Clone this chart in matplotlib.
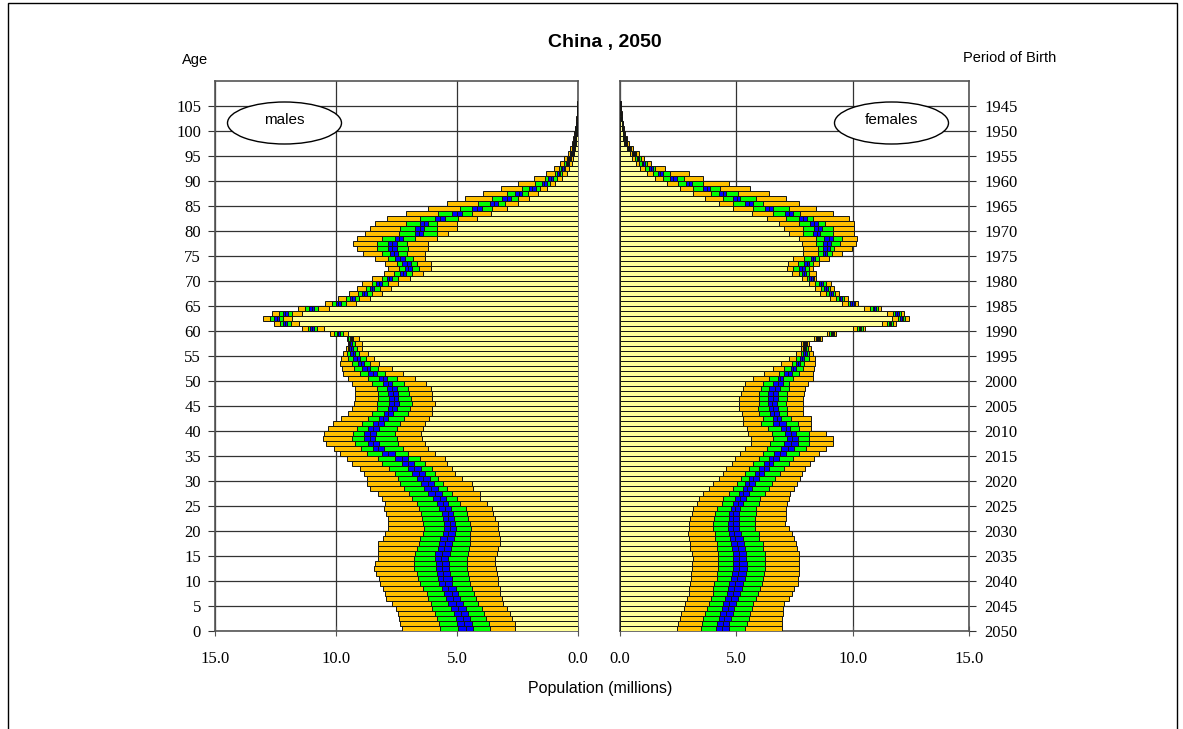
import numpy as np
import matplotlib
matplotlib.use('Agg')
import matplotlib.pyplot as plt
from matplotlib.patches import Ellipse, Rectangle

ages = np.arange(106)
age_ticks = list(range(0, 110, 5))
birth_labels = [str(2050 - a) for a in age_ticks]
x_ticks = [0, 5, 10, 15]
x_labels = ['0.0', '5.0', '10.0', '15.0']

# ---- males (millions), outer-most to inner boundaries ----
m_hi = [7.29, 7.36, 7.40, 7.45, 7.52, 7.70, 7.95, 7.98, 8.04, 8.18,
        8.21, 8.36, 8.42, 8.39, 8.28, 8.25, 8.28, 8.25, 8.04, 7.98,
        7.84, 7.84, 7.87, 7.95, 8.00, 7.98, 8.11, 8.25, 8.60, 8.73,
        8.73, 8.83, 9.01, 9.35, 9.56, 9.83, 10.07, 10.43, 10.52, 10.48,
        10.32, 10.11, 9.79, 9.52, 9.33, 9.24, 9.21, 9.21, 9.21, 9.35,
        9.49, 9.70, 9.77, 9.83, 9.79, 9.70, 9.60, 9.52, 9.56, 10.25,
        11.39, 12.56, 13.00, 12.66, 11.58, 10.45, 9.90, 9.45, 9.15, 8.94,
        8.50, 8.00, 7.84, 7.98, 8.39, 8.87, 9.15, 9.28, 9.15, 8.80,
        8.60, 8.39, 7.91, 7.12, 6.21, 5.40, 4.67, 3.91, 3.18, 2.47,
        1.82, 1.32, 0.98, 0.74, 0.56, 0.43, 0.33, 0.26, 0.21, 0.17,
        0.13, 0.10, 0.08, 0.06, 0.04, 0.03]
m_u2 = [5.70, 5.74, 5.84, 5.91, 6.02, 6.07, 6.18, 6.25, 6.39, 6.53,
        6.60, 6.67, 6.76, 6.76, 6.76, 6.74, 6.67, 6.57, 6.53, 6.39,
        6.35, 6.39, 6.43, 6.49, 6.57, 6.67, 6.85, 6.98, 7.18, 7.36,
        7.42, 7.56, 7.81, 8.11, 8.25, 8.73, 8.98, 9.21, 9.33, 9.28,
        9.15, 8.91, 8.69, 8.50, 8.32, 8.29, 8.28, 8.28, 8.32, 8.53,
        8.66, 9.01, 9.24, 9.35, 9.49, 9.56, 9.52, 9.46, 9.49, 10.07,
        11.17, 12.31, 12.73, 12.36, 11.28, 10.15, 9.59, 9.10, 8.77, 8.53,
        8.09, 7.59, 7.38, 7.49, 7.84, 8.11, 8.32, 8.32, 8.11, 7.40,
        7.36, 7.12, 6.53, 5.77, 4.88, 4.12, 3.54, 2.95, 2.33, 1.78,
        1.36, 0.95, 0.77, 0.56, 0.45, 0.34, 0.26, 0.21, 0.17, 0.14,
        0.11, 0.08, 0.06, 0.05, 0.03, 0.02]
m_u3 = [4.97, 5.01, 5.06, 5.11, 5.25, 5.36, 5.47, 5.52, 5.63, 5.74,
        5.80, 5.84, 5.88, 5.88, 5.91, 5.91, 5.80, 5.74, 5.70, 5.59,
        5.55, 5.52, 5.56, 5.63, 5.74, 5.84, 5.98, 6.18, 6.35, 6.49,
        6.67, 6.87, 7.01, 7.29, 7.56, 8.11, 8.46, 8.69, 8.83, 8.84,
        8.66, 8.46, 8.22, 8.00, 7.84, 7.81, 7.81, 7.84, 7.91, 8.04,
        8.22, 8.66, 8.91, 9.08, 9.28, 9.42, 9.45, 9.41, 9.42, 9.97,
        11.07, 12.18, 12.55, 12.20, 11.12, 10.01, 9.42, 8.94, 8.60, 8.35,
        7.91, 7.36, 7.15, 7.26, 7.56, 7.77, 7.84, 7.84, 7.56, 6.74,
        6.74, 6.53, 5.91, 5.22, 4.39, 3.62, 3.13, 2.60, 2.01, 1.50,
        1.23, 0.85, 0.70, 0.51, 0.40, 0.30, 0.23, 0.18, 0.15, 0.12,
        0.10, 0.07, 0.05, 0.04, 0.03, 0.02]
m_med = [4.64, 4.70, 4.77, 4.83, 4.94, 5.06, 5.15, 5.22, 5.36, 5.50,
         5.56, 5.59, 5.63, 5.63, 5.66, 5.63, 5.55, 5.50, 5.43, 5.36,
         5.29, 5.29, 5.36, 5.39, 5.50, 5.56, 5.70, 5.91, 6.07, 6.21,
         6.39, 6.57, 6.76, 7.01, 7.29, 7.84, 8.25, 8.46, 8.60, 8.60,
         8.46, 8.25, 8.04, 7.84, 7.70, 7.60, 7.60, 7.66, 7.70, 7.87,
         8.04, 8.46, 8.73, 8.97, 9.15, 9.31, 9.38, 9.35, 9.38, 9.90,
         11.01, 12.11, 12.45, 12.11, 11.01, 9.90, 9.33, 8.83, 8.53, 8.24,
         7.81, 7.25, 7.01, 7.08, 7.36, 7.59, 7.67, 7.67, 7.40, 6.57,
         6.54, 6.35, 5.70, 5.01, 4.19, 3.47, 2.95, 2.44, 1.89, 1.39,
         1.12, 0.80, 0.65, 0.45, 0.36, 0.26, 0.21, 0.17, 0.14, 0.11,
         0.09, 0.07, 0.05, 0.04, 0.03, 0.02]
m_l3 = [4.33, 4.37, 4.46, 4.53, 4.64, 4.74, 4.88, 4.94, 5.06, 5.19,
        5.22, 5.29, 5.32, 5.32, 5.36, 5.29, 5.25, 5.19, 5.14, 5.08,
        5.06, 5.08, 5.11, 5.15, 5.25, 5.36, 5.45, 5.63, 5.80, 5.94,
        6.12, 6.32, 6.49, 6.76, 7.01, 7.56, 8.00, 8.22, 8.39, 8.35,
        8.22, 8.00, 7.84, 7.63, 7.49, 7.40, 7.42, 7.45, 7.49, 7.70,
        7.91, 8.32, 8.60, 8.84, 9.01, 9.21, 9.31, 9.33, 9.35, 9.83,
        10.92, 12.04, 12.36, 12.00, 10.90, 9.79, 9.21, 8.72, 8.42, 8.11,
        7.70, 7.12, 6.87, 6.90, 7.15, 7.42, 7.49, 7.49, 7.22, 6.39,
        6.35, 6.18, 5.50, 4.81, 3.98, 3.32, 2.77, 2.30, 1.75, 1.28,
        1.02, 0.74, 0.59, 0.43, 0.32, 0.23, 0.18, 0.15, 0.12, 0.10,
        0.08, 0.06, 0.04, 0.03, 0.02, 0.01]
m_l2 = [3.64, 3.68, 3.82, 3.87, 3.98, 4.12, 4.23, 4.28, 4.39, 4.46,
        4.50, 4.56, 4.60, 4.60, 4.60, 4.56, 4.50, 4.46, 4.46, 4.46,
        4.42, 4.46, 4.53, 4.60, 4.64, 4.88, 5.01, 5.19, 5.43, 5.56,
        5.80, 5.91, 6.05, 6.32, 6.53, 7.01, 7.22, 7.42, 7.49, 7.56,
        7.49, 7.36, 7.18, 7.04, 6.94, 6.87, 6.90, 6.98, 7.01, 7.18,
        7.49, 7.98, 8.25, 8.60, 8.77, 9.05, 9.15, 9.21, 9.28, 9.72,
        10.80, 11.86, 12.18, 11.80, 10.73, 9.60, 9.05, 8.53, 8.18, 7.87,
        7.42, 6.87, 6.57, 6.67, 6.80, 7.08, 7.04, 7.08, 6.74, 5.84,
        5.84, 5.84, 4.94, 4.39, 3.54, 3.02, 2.49, 2.05, 1.57, 1.16,
        0.88, 0.67, 0.54, 0.37, 0.29, 0.21, 0.15, 0.12, 0.10, 0.08,
        0.06, 0.05, 0.04, 0.03, 0.02, 0.01]
m_l1 = [2.60, 2.60, 2.74, 2.81, 2.95, 3.09, 3.15, 3.22, 3.22, 3.29,
        3.29, 3.36, 3.40, 3.43, 3.43, 3.36, 3.32, 3.22, 3.22, 3.26,
        3.29, 3.32, 3.43, 3.50, 3.57, 3.77, 4.05, 4.05, 4.33, 4.39,
        4.81, 5.08, 5.19, 5.43, 5.50, 5.91, 6.18, 6.32, 6.46, 6.49,
        6.39, 6.32, 6.16, 6.05, 6.02, 5.91, 6.02, 6.05, 6.07, 6.29,
        6.74, 7.22, 7.70, 8.22, 8.42, 8.69, 8.94, 8.94, 9.05, 9.52,
        10.50, 11.53, 11.80, 11.39, 10.29, 9.19, 8.60, 8.11, 7.73, 7.42,
        6.94, 6.39, 6.07, 6.07, 6.32, 6.32, 6.18, 6.18, 5.84, 5.36,
        5.01, 5.01, 4.19, 3.60, 2.95, 2.47, 2.02, 1.67, 1.29, 0.95,
        0.67, 0.47, 0.37, 0.23, 0.19, 0.15, 0.12, 0.10, 0.08, 0.06,
        0.05, 0.04, 0.03, 0.02, 0.01, 0.01]

# ---- females (millions) ----
f_l1 = [2.44, 2.48, 2.58, 2.62, 2.77, 2.81, 2.87, 2.95, 2.98, 3.01,
        3.05, 3.05, 3.09, 3.09, 3.12, 3.09, 3.01, 3.01, 2.95, 2.91,
        2.95, 2.98, 3.01, 3.09, 3.15, 3.30, 3.38, 3.58, 3.81, 4.01,
        4.24, 4.44, 4.56, 4.81, 4.96, 5.16, 5.39, 5.63, 5.63, 5.49,
        5.44, 5.27, 5.27, 5.24, 5.10, 5.10, 5.13, 5.20, 5.30, 5.39,
        5.73, 6.20, 6.56, 6.92, 7.25, 7.56, 7.78, 7.78, 8.35, 8.88,
        10.03, 11.26, 11.69, 11.46, 10.50, 9.54, 9.03, 8.60, 8.38, 8.14,
        7.82, 7.39, 7.16, 7.21, 7.45, 7.85, 7.85, 7.82, 7.68, 7.28,
        7.03, 6.82, 6.30, 5.67, 4.87, 4.24, 3.67, 3.15, 2.58, 2.01,
        1.52, 1.15, 0.86, 0.69, 0.52, 0.43, 0.29, 0.19, 0.15, 0.12,
        0.09, 0.07, 0.05, 0.04, 0.03, 0.02]
f_l2 = [3.48, 3.52, 3.58, 3.67, 3.72, 3.81, 3.91, 3.98, 4.01, 4.05,
        4.15, 4.15, 4.20, 4.20, 4.20, 4.20, 4.15, 4.15, 4.10, 4.10,
        4.01, 4.01, 4.05, 4.10, 4.15, 4.38, 4.44, 4.67, 4.84, 5.01,
        5.20, 5.39, 5.56, 5.73, 5.96, 6.13, 6.30, 6.45, 6.59, 6.53,
        6.35, 6.06, 6.13, 5.99, 5.92, 5.96, 5.96, 5.99, 6.06, 6.13,
        6.39, 6.82, 7.06, 7.39, 7.56, 7.78, 7.85, 7.85, 8.42, 9.00,
        10.17, 11.46, 11.93, 11.72, 10.74, 9.79, 9.28, 8.85, 8.64, 8.40,
        8.02, 7.68, 7.42, 7.64, 7.92, 8.50, 8.50, 8.42, 8.42, 7.88,
        7.88, 7.68, 7.13, 6.56, 5.73, 4.87, 4.44, 3.91, 3.15, 2.48,
        1.86, 1.43, 1.09, 0.83, 0.63, 0.52, 0.36, 0.23, 0.18, 0.14,
        0.11, 0.08, 0.06, 0.04, 0.03, 0.02]
f_l3 = [4.13, 4.17, 4.24, 4.30, 4.38, 4.41, 4.53, 4.58, 4.63, 4.67,
        4.77, 4.81, 4.84, 4.87, 4.87, 4.84, 4.81, 4.77, 4.73, 4.70,
        4.63, 4.63, 4.67, 4.70, 4.77, 4.87, 4.96, 5.13, 5.27, 5.39,
        5.56, 5.82, 5.99, 6.20, 6.42, 6.63, 6.92, 7.06, 7.16, 7.11,
        6.92, 6.56, 6.56, 6.45, 6.39, 6.35, 6.35, 6.35, 6.42, 6.56,
        6.78, 7.06, 7.35, 7.56, 7.75, 7.88, 7.91, 7.91, 8.48, 9.07,
        10.26, 11.55, 12.03, 11.83, 10.86, 9.89, 9.40, 9.00, 8.78, 8.54,
        8.14, 7.82, 7.68, 7.92, 8.21, 8.71, 8.74, 8.71, 8.78, 8.31,
        8.35, 8.17, 7.68, 7.11, 6.25, 5.39, 4.87, 4.27, 3.58, 2.84,
        2.15, 1.62, 1.26, 0.95, 0.72, 0.57, 0.40, 0.26, 0.20, 0.16,
        0.12, 0.09, 0.07, 0.05, 0.03, 0.02]
f_med = [4.38, 4.41, 4.48, 4.56, 4.63, 4.67, 4.77, 4.84, 4.91, 4.96,
         5.01, 5.06, 5.10, 5.13, 5.10, 5.10, 5.06, 5.01, 4.96, 4.91,
         4.84, 4.84, 4.84, 4.87, 4.93, 5.06, 5.16, 5.30, 5.44, 5.56,
         5.73, 5.99, 6.20, 6.39, 6.59, 6.88, 7.21, 7.35, 7.39, 7.35,
         7.13, 6.85, 6.75, 6.63, 6.59, 6.53, 6.56, 6.56, 6.65, 6.78,
         6.89, 7.22, 7.45, 7.65, 7.84, 7.95, 7.95, 7.95, 8.52, 9.11,
         10.32, 11.60, 12.11, 11.91, 10.93, 9.97, 9.47, 9.07, 8.85, 8.62,
         8.21, 7.91, 7.82, 8.02, 8.31, 8.80, 8.88, 8.88, 8.97, 8.45,
         8.51, 8.32, 7.85, 7.28, 6.42, 5.56, 5.01, 4.41, 3.72, 2.97,
         2.29, 1.72, 1.33, 1.00, 0.76, 0.60, 0.43, 0.27, 0.21, 0.17,
         0.13, 0.10, 0.07, 0.05, 0.04, 0.02]
f_u3 = [4.67, 4.70, 4.77, 4.84, 4.91, 4.99, 5.06, 5.16, 5.24, 5.30,
        5.39, 5.42, 5.44, 5.44, 5.42, 5.42, 5.39, 5.34, 5.27, 5.20,
        5.10, 5.10, 5.10, 5.13, 5.16, 5.27, 5.42, 5.53, 5.67, 5.82,
        5.96, 6.20, 6.39, 6.59, 6.82, 7.13, 7.49, 7.64, 7.64, 7.56,
        7.31, 7.13, 6.92, 6.82, 6.78, 6.73, 6.78, 6.78, 6.88, 6.99,
        6.99, 7.39, 7.56, 7.74, 7.92, 8.02, 7.99, 7.99, 8.57, 9.15,
        10.37, 11.66, 12.18, 11.98, 11.00, 10.04, 9.54, 9.14, 8.93, 8.71,
        8.28, 7.99, 7.97, 8.11, 8.40, 8.88, 9.03, 9.07, 9.14, 8.60,
        8.68, 8.50, 8.02, 7.45, 6.59, 5.73, 5.16, 4.56, 3.88, 3.09,
        2.44, 1.83, 1.40, 1.06, 0.80, 0.63, 0.44, 0.29, 0.22, 0.18,
        0.14, 0.10, 0.08, 0.06, 0.04, 0.03]
f_u2 = [5.39, 5.44, 5.53, 5.59, 5.67, 5.70, 5.85, 5.92, 6.02, 6.10,
        6.16, 6.20, 6.25, 6.25, 6.25, 6.25, 6.16, 6.13, 5.99, 5.96,
        5.82, 5.82, 5.82, 5.85, 5.85, 5.96, 6.02, 6.25, 6.39, 6.53,
        6.68, 6.88, 7.06, 7.25, 7.45, 7.68, 7.99, 8.14, 8.11, 8.11,
        7.71, 7.64, 7.35, 7.16, 7.16, 7.13, 7.16, 7.16, 7.28, 7.28,
        7.42, 7.68, 7.88, 7.92, 8.11, 8.14, 8.07, 8.05, 8.61, 9.21,
        10.43, 11.72, 12.26, 12.08, 11.07, 10.11, 9.64, 9.26, 9.04, 8.85,
        8.35, 8.14, 8.11, 8.28, 8.57, 9.11, 9.21, 9.46, 9.54, 9.14,
        9.17, 8.83, 8.28, 7.74, 7.25, 6.13, 5.85, 5.06, 4.30, 3.58,
        2.77, 2.15, 1.52, 1.15, 0.89, 0.69, 0.49, 0.32, 0.24, 0.19,
        0.15, 0.11, 0.08, 0.06, 0.04, 0.03]
f_hi = [6.95, 6.96, 6.95, 6.99, 7.02, 7.06, 7.25, 7.39, 7.49, 7.64,
        7.64, 7.71, 7.71, 7.71, 7.68, 7.68, 7.59, 7.56, 7.49, 7.39,
        7.25, 7.11, 7.13, 7.13, 7.13, 7.16, 7.25, 7.31, 7.49, 7.59,
        7.74, 7.82, 7.97, 8.17, 8.35, 8.57, 8.85, 9.17, 9.14, 8.85,
        8.21, 8.21, 8.21, 7.88, 7.85, 7.88, 7.88, 7.92, 7.97, 8.07,
        8.28, 8.28, 8.35, 8.40, 8.40, 8.28, 8.21, 8.11, 8.68, 9.28,
        10.54, 11.86, 12.41, 12.22, 11.22, 10.21, 9.79, 9.43, 9.21, 9.07,
        8.42, 8.42, 8.28, 8.54, 8.97, 9.54, 9.97, 10.14, 10.17, 10.07,
        10.07, 10.07, 9.83, 9.14, 8.42, 7.71, 7.13, 6.42, 5.59, 4.70,
        3.58, 2.95, 1.95, 1.33, 1.05, 0.80, 0.54, 0.37, 0.29, 0.22,
        0.17, 0.13, 0.10, 0.07, 0.05, 0.03]

YELLOW = '#FFFF99'
ORANGE = '#FFC000'
GREEN = '#00FF00'
BLUE = '#0000FF'
seg_colors = [YELLOW, ORANGE, GREEN, BLUE, BLUE, GREEN, ORANGE]

SERIF = ['Liberation Serif', 'DejaVu Serif']
SANS = ['Liberation Sans', 'DejaVu Sans']

W, H = 1183, 729
fig = plt.figure(figsize=(W / 100, H / 100), dpi=100)
fig.patch.set_facecolor('white')

bottom = 1 - 631.3 / H
height = 550 / H
axL = fig.add_axes([215 / W, bottom, 363 / W, height])
axR = fig.add_axes([620 / W, bottom, 349 / W, height])


def draw(ax, bounds):
    b = np.vstack([np.zeros(len(ages))] + [np.asarray(v, float) for v in bounds])
    for i in range(7):
        ax.barh(ages, b[i + 1] - b[i], left=b[i], height=1.0, align='edge',
                color=seg_colors[i], edgecolor='#141414', linewidth=0.7, zorder=3)


draw(axL, [m_l1, m_l2, m_l3, m_med, m_u3, m_u2, m_hi])
draw(axR, [f_l1, f_l2, f_l3, f_med, f_u3, f_u2, f_hi])

for ax in (axL, axR):
    ax.set_ylim(0, 110)
    ax.set_yticks(age_ticks)
    ax.set_xticks(x_ticks)
    ax.set_xticklabels(x_labels, fontfamily=SERIF, fontsize=12)
    ax.set_axisbelow(True)
    ax.grid(True, color='#333333', linewidth=0.9, zorder=0)
    for s in ax.spines.values():
        s.set_color('#555555')
        s.set_linewidth(1.2)
    ax.tick_params(axis='x', direction='inout', length=7, pad=11, color='#555555')
    ax.tick_params(axis='y', direction='out', length=5, color='#333333')

axL.set_xlim(15, 0)
axL.set_yticklabels([str(a) for a in age_ticks], fontfamily=SERIF, fontsize=12)
axL.tick_params(axis='y', pad=5)

axR.set_xlim(0, 15)
axR.yaxis.tick_right()
axR.set_yticklabels(birth_labels, fontfamily=SERIF, fontsize=12)
axR.tick_params(axis='y', pad=6)

fig.text(605 / W, 1 - 42 / H, 'China , 2050', ha='center', va='center',
         fontsize=14, fontweight='bold', fontfamily=SANS)
fig.text(195 / W, 1 - 60 / H, 'Age', ha='center', va='center',
         fontsize=10.5, fontfamily=SANS)
fig.text(1010 / W, 1 - 58 / H, 'Period of Birth', ha='center', va='center',
         fontsize=10.5, fontfamily=SANS)
fig.text(600 / W, 1 - 688 / H, 'Population (millions)', ha='center', va='center',
         fontsize=11.5, fontfamily=SANS)

for cx, label in ((284.5, 'males'), (891.5, 'females')):
    e = Ellipse((cx / W, 1 - 123 / H), 114 / W, 42 / H, transform=fig.transFigure,
                facecolor='white', edgecolor='black', linewidth=1.0, zorder=10)
    fig.add_artist(e)
    fig.text(cx / W, 1 - 120 / H, label, ha='center', va='center', fontsize=11,
             fontfamily=SANS, zorder=11)

frame = Rectangle((8 / W, -0.05), 1169 / W, (1 - 3 / H) + 0.05, transform=fig.transFigure,
                  fill=False, edgecolor='black', linewidth=1.0, zorder=20)
fig.add_artist(frame)

fig.savefig('out.png', dpi=100)
